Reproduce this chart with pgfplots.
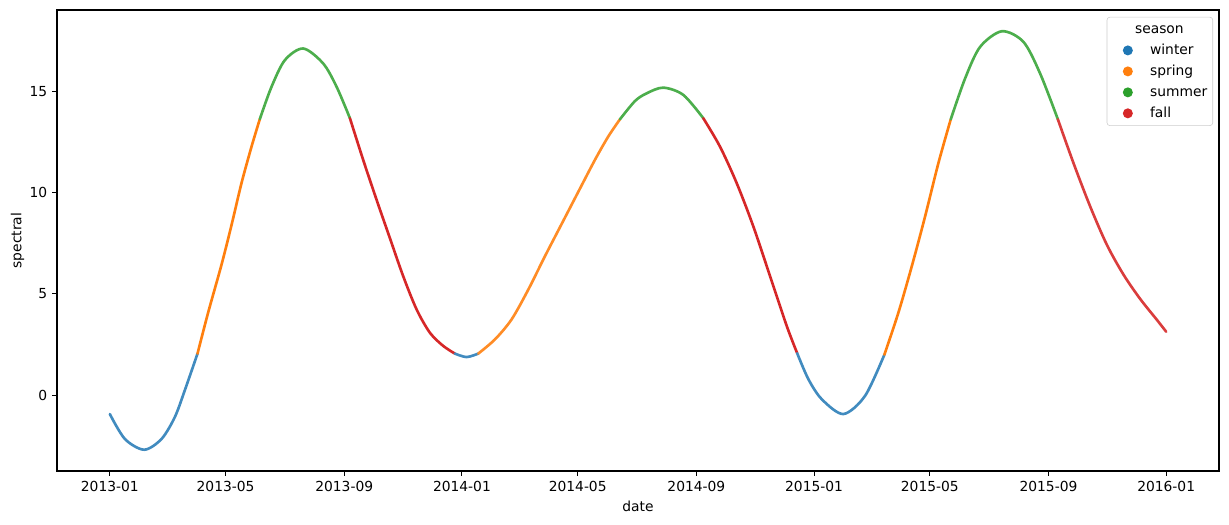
\documentclass[border=0pt]{standalone}
\usepackage{fontspec}
\setmainfont{DejaVu Sans}
\usepackage{pgfplots}
\pgfplotsset{compat=1.18}
\definecolor{cwin}{HTML}{1F77B4}
\definecolor{cspr}{HTML}{FF7F0E}
\definecolor{csum}{HTML}{2CA02C}
\definecolor{cfal}{HTML}{D62728}
\begin{document}
\begin{tikzpicture}[x=1bp,y=1bp]
\begin{axis}[
  at={(0,0)}, anchor=south west,
  scale only axis, width=836.64bp, height=331.92bp,
  xmin=-54.75, xmax=1149.75, ymin=-3.74, ymax=19.0,
  xtick={0,120,243,365,485,608,730,850,973,1095},
  xticklabels={2013-01,2013-05,2013-09,2014-01,2014-05,2014-09,2015-01,2015-05,2015-09,2016-01},
  ytick={0,5,10,15},
  xtick pos=bottom, ytick pos=left,
  tick align=outside, major tick length=3.5bp,
  tick style={black, line width=0.8bp},
  axis line style={line width=0.75bp},
  every tick label/.append style={font=\fontsize{10}{12}\selectfont},
  /pgf/number format/assume math mode=true,
  xlabel={date}, ylabel={spectral}, ylabel shift=-3bp,
  label style={font=\fontsize{10}{12}\selectfont},
  legend cell align=left,
  legend style={at={(1,1)}, anchor=north east, xshift=-4.3bp, yshift=-5bp,
    draw=black!20, rounded corners=2bp, fill=white, inner sep=2bp,
    font=\fontsize{10}{12}\selectfont,
    nodes={inner sep=2bp, text height=7.5bp, text depth=2.1bp},
    column sep=0bp, row sep=1.5bp},
]
\addlegendimage{empty legend}\addlegendentry{\hspace*{-10.8bp}season}
\addlegendimage{legend image code/.code={\path[draw=none,fill=none] (0bp,-3.5bp) rectangle (27bp,3.5bp); \fill[cwin,draw=none] (13bp,0bp) circle (3.6bp);}}\addlegendentry{winter}
\addlegendimage{legend image code/.code={\path[draw=none,fill=none] (0bp,-3.5bp) rectangle (27bp,3.5bp); \fill[cspr,draw=none] (13bp,0bp) circle (3.6bp);}}\addlegendentry{spring}
\addlegendimage{legend image code/.code={\path[draw=none,fill=none] (0bp,-3.5bp) rectangle (27bp,3.5bp); \fill[csum,draw=none] (13bp,0bp) circle (3.6bp);}}\addlegendentry{summer}
\addlegendimage{legend image code/.code={\path[draw=none,fill=none] (0bp,-3.5bp) rectangle (27bp,3.5bp); \fill[cfal,draw=none] (13bp,0bp) circle (3.6bp);}}\addlegendentry{fall}

\pgfplotsset{seg/.style={line width=1.9bp, smooth, forget plot, line cap=round}}
% winter 1
\addplot[seg, cwin!85!white] coordinates {(0,-0.93)(15.6,-2.16)(35.6,-2.69)(53.6,-2.16)(67.4,-1.08)(77.8,0.25)(90.9,2.05)};
% spring 1
\addplot[seg, cspr] coordinates {(90.9,2.05)(101.9,4.07)(115.8,6.44)(126.2,8.4)(136.5,10.46)(146.9,12.26)(155.5,13.62)};
% summer 1
\addplot[seg, csum!85!white] coordinates {(155.5,13.62)(167.6,15.21)(181.5,16.53)(200.5,17.10)(221.2,16.36)(235.1,15.21)(248.9,13.66)};
% fall 1
\addplot[seg, cfal] coordinates {(248.9,13.66)(262.6,11.61)(276.5,9.64)(290.3,7.75)(304.1,5.87)(318,4.23)(331.8,3.08)(345.6,2.43)(357.7,2.05)};
% winter 2
\addplot[seg, cwin!85!white] coordinates {(357.7,2.05)(369.8,1.88)(381.9,2.05)};
% spring 2
\addplot[seg, cspr!90!white] coordinates {(381.9,2.05)(399.2,2.75)(416.5,3.74)(433.8,5.21)(451,6.85)(468.4,8.45)(485.6,10.03)(502.9,11.61)(516.7,12.76)(528.8,13.61)};
% summer 2
\addplot[seg, csum!85!white] coordinates {(528.8,13.61)(544.4,14.51)(556.5,14.89)(573.7,15.17)(594.5,14.81)(615.2,13.66)};
% fall 2
\addplot[seg, cfal] coordinates {(615.2,13.66)(632.5,12.26)(649.8,10.46)(667,8.33)(684.4,5.87)(701.7,3.41)(712.5,2.07)};
% winter 3
\addplot[seg, cwin!85!white] coordinates {(712.5,2.07)(724.1,0.79)(738,-0.2)(760.4,-0.93)(782.9,-0.03)(802.9,2.0)};
% spring 3
\addplot[seg, cspr] coordinates {(802.9,2.0)(817.4,4.07)(831.3,6.36)(845.1,8.82)(858.9,11.45)(871.7,13.61)};
% summer 3
\addplot[seg, csum!85!white] coordinates {(871.7,13.61)(886.6,15.63)(902.1,17.18)(924.6,17.95)(947,17.43)(964.3,15.87)(982.7,13.61)};
% fall 3
\addplot[seg, cfal!90!white] coordinates {(982.7,13.61)(998.9,11.45)(1016.2,9.31)(1033.5,7.42)(1050.7,5.95)(1068,4.75)(1085.3,3.72)(1095,3.13)};
\end{axis}
\pgfresetboundingbox
\useasboundingbox (-41.04bp,-38.88bp) rectangle (843.84bp,339.12bp);
\end{tikzpicture}
\end{document}
